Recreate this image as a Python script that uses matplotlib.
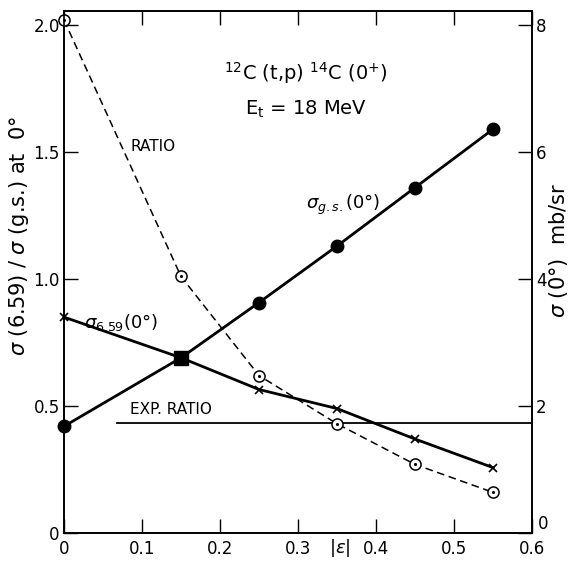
import numpy as np
import matplotlib
matplotlib.use("Agg")
import matplotlib.pyplot as plt

# |epsilon| values
eps = [0.0, 0.15, 0.25, 0.35, 0.45, 0.55]
# sigma(6.59)/sigma(g.s.) ratio, left axis
ratio = [2.02, 1.01, 0.62, 0.43, 0.27, 0.16]
# sigma(0 deg) in mb/sr, right axis
sig_gs = [1.68, 2.76, 3.63, 4.52, 5.44, 6.36]
sig_659 = [3.40, 2.76, 2.26, 1.96, 1.48, 1.03]
# experimental ratio
exp_ratio = 0.435
exp_x = [0.068, 0.6]

left_ticks = [0.5, 1.0, 1.5, 2.0]
left_labels = ["0.5", "1.0", "1.5", "2.0"]
right_ticks = [0, 2, 4, 6, 8]
right_labels = ["", "2", "4", "6", "8"]
x_ticks = [0, 0.1, 0.2, 0.3, 0.4, 0.5, 0.6]
x_labels = ["0", "0.1", "0.2", "0.3", "0.4", "0.5", "0.6"]

plt.rcParams["font.family"] = ["DejaVu Sans"]
plt.rcParams["mathtext.fontset"] = "dejavusans"

fig = plt.figure(figsize=(5.69, 5.63), dpi=100)
ax = fig.add_axes([0.1125, 0.0533, 0.8225, 0.927])
ax2 = ax.twinx()

ax.set_xlim(0, 0.6)
ax.set_ylim(0, 2.055)
ax2.set_ylim(0, 8.22)

# ratio curve (dashed, dotted open circles)
ax.plot(eps, ratio, ls=(0, (5, 3)), color="black", lw=1.1, zorder=3)
ax.plot(eps, ratio, ls="none", marker="o", ms=8, mfc="white", mec="black", mew=1.1, zorder=4, clip_on=False)
ax.plot(eps, ratio, ls="none", marker=".", ms=2.5, color="black", zorder=5, clip_on=False)

# experimental ratio
ax.plot(exp_x, [exp_ratio, exp_ratio], color="black", lw=1.3)

# cross sections on right axis
ax2.plot(eps, sig_gs, color="black", lw=2.0, marker="o", ms=9, mfc="black", mec="black", zorder=3, clip_on=False)
ax2.plot(eps, sig_659, color="black", lw=2.0, marker="x", ms=6, mew=1.2, zorder=3, clip_on=False)
ax2.plot([eps[1]], [sig_gs[1]], ls="none", marker="s", ms=10, color="black", zorder=4)

# ticks
ax.set_xticks(x_ticks)
ax.set_xticklabels(x_labels)
ax.set_yticks([0] + left_ticks)
ax.set_yticklabels(["0"] + left_labels)
ax2.set_yticks(right_ticks)
ax2.set_yticklabels(right_labels)
ax.tick_params(axis="both", direction="in", length=10, width=1.0, labelsize=12, top=True, pad=5)
ax.tick_params(axis="y", pad=3)
ax2.tick_params(axis="y", direction="in", length=10, width=1.0, labelsize=12, pad=3)
# right-axis zero sits at the corner, next to "0.6"
ax2.text(1.012, 0.0, "0", transform=ax2.transAxes, fontsize=12, ha="left", va="bottom")

for a in (ax, ax2):
    for s in a.spines.values():
        s.set_linewidth(1.2)

fig.text(0.033, 0.58, r"$\sigma$ (6.59) / $\sigma$ (g.s.) at  0$\degree$", fontsize=15,
         rotation=90, ha="center", va="center")
fig.text(0.982, 0.556, r"$\sigma$ (0$\degree$)  mb/sr", fontsize=15,
         rotation=90, ha="center", va="center")
fig.text(0.598, 0.026, r"|$\epsilon$|", fontsize=13, ha="center", va="center")

# annotations
ax.text(0.31, 1.81, r"$^{12}$C (t,p) $^{14}$C (0$^{+}$)", fontsize=14, ha="center", va="center")
ax.text(0.31, 1.67, r"E$_{\rm t}$ = 18 MeV", fontsize=14, ha="center", va="center")
ax.text(0.085, 1.52, "RATIO", fontsize=11, ha="left", va="center")
ax.text(0.31, 1.29, r"$\sigma_{g.s.}$(0°)", fontsize=13, ha="left", va="center")
ax.text(0.025, 0.83, r"$\sigma_{6.59}$(0°)", fontsize=13, ha="left", va="center")
ax.text(0.085, 0.485, "EXP. RATIO", fontsize=11, ha="left", va="center")

fig.savefig("out.png", dpi=100)
